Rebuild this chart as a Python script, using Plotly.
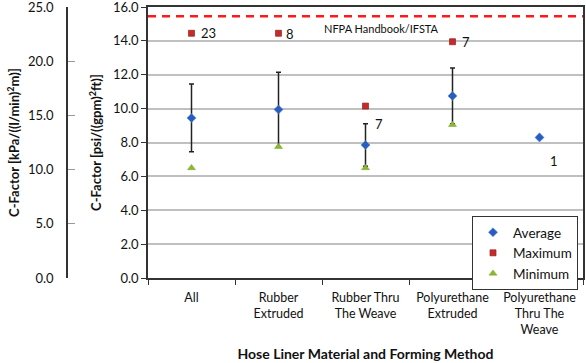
import plotly.graph_objects as go

categories = ["All", "Rubber<br>Extruded", "Rubber Thru<br>The Weave",
              "Polyurethane<br>Extruded", "Polyurethane<br>Thru The<br>Weave"]
average = [9.45, 9.95, 7.85, 10.75, 8.3]
error = [2.0, 2.2, 1.25, 1.65, None]
maximum = [14.45, 14.45, 10.15, 13.95, None]
minimum = [6.5, 7.75, 6.5, 9.05, None]
counts = ["23", "8", "7", "7", "1"]
nfpa_value = 15.45

FONT = "Lato"
W, H = 586, 363
x0, x1 = 148 / W, 583 / W
y0, y1 = (H - 278) / H, (H - 7) / H

fig = go.Figure()

fig.add_trace(go.Scatter(
    x=categories, y=average, mode="markers", name="Average",
    marker=dict(symbol="diamond", size=7, color="#2A5DC0",
                line=dict(color="#5B8BE0", width=0.5)),
    error_y=dict(type="data", array=[e if e is not None else 0 for e in error],
                 visible=True, color="#222222", thickness=1.5, width=2.5),
))
fig.add_trace(go.Scatter(
    x=categories, y=maximum, mode="markers", name="Maximum",
    marker=dict(symbol="square", size=6, color="#C42B2B",
                line=dict(color="#9E1E1E", width=0.7)),
))
fig.add_trace(go.Scatter(
    x=categories, y=minimum, mode="markers", name="Minimum",
    marker=dict(symbol="triangle-up", size=7, color="#8CB830",
                line=dict(color="#7AA526", width=0.5)),
))
# secondary (kPa) axis dummy trace
fig.add_trace(go.Scatter(x=[categories[0]], y=[None], yaxis="y2",
                         showlegend=False, hoverinfo="skip"))

fig.add_shape(type="line", xref="paper", yref="y", x0=x0, x1=x1,
              y0=nfpa_value, y1=nfpa_value,
              line=dict(color="#FF1A1A", width=2.5, dash="8px,6px"))

fig.add_annotation(x=381 / W, xref="paper", y=14.75, yref="y", text="NFPA Handbook/IFSTA",
                   showarrow=False, font=dict(family=FONT, size=11, color="#111111"))

# count labels
label_pos = [
    (categories[0], maximum[0], 17, 0),
    (categories[1], maximum[1], 11, -1),
    (categories[2], 9.1, 13, 0),
    (categories[3], maximum[3], 13, 0),
    (categories[4], 6.9, 14, 0),
]
for (cx, cy, dx, dy), t in zip(label_pos, counts):
    fig.add_annotation(x=cx, y=cy, text=t, showarrow=False, xshift=dx, yshift=dy,
                       font=dict(family=FONT, size=13, color="#111111"))

fig.update_layout(
    width=W, height=H,
    margin=dict(l=0, r=0, t=0, b=0),
    paper_bgcolor="white", plot_bgcolor="white",
    font=dict(family=FONT, size=13, color="#111111"),
    showlegend=True,
    legend=dict(x=578 / W, xanchor="right", y=(H - 216) / H, yanchor="top",
                bgcolor="white", bordercolor="#333333", borderwidth=1,
                font=dict(family=FONT, size=13.5), tracegroupgap=0,
                itemwidth=30),
    xaxis=dict(domain=[x0, x1], type="category", tickson="boundaries",
               range=[-0.5, len(categories) - 0.5],
               ticks="outside", ticklen=5, tickcolor="#333333",
               showline=True, linecolor="#333333", linewidth=1.5, mirror=True,
               showgrid=False, tickfont=dict(family=FONT, size=12.5),
               ticklabelstandoff=7, automargin=False,
               title=dict(text="<b>Hose Liner Material and Forming Method</b>",
                          font=dict(family=FONT, size=14), standoff=13)),
    yaxis=dict(domain=[y0, y1], range=[0, 16], dtick=2, tickformat=".1f",
               ticks="outside", ticklen=5, tickcolor="#333333",
               showline=True, linecolor="#333333", linewidth=1.5, mirror=True,
               showgrid=True, gridcolor="#C0C0C0", gridwidth=1.5, zeroline=False,
               tickfont=dict(family=FONT, size=13), ticklabeloverflow="allow",
               automargin=False,
               title=dict(text="<b>C-Factor [psi/((gpm)<sup>2</sup>ft)]</b>",
                          font=dict(family=FONT, size=13), standoff=8)),
    yaxis2=dict(overlaying="y", anchor="free", position=67 / W, side="left",
                range=[0, 25], dtick=5, tickformat=".1f",
                ticks="inside", ticklen=7, tickcolor="#999999",
                showline=True, linecolor="#333333", linewidth=1.5,
                showgrid=False, zeroline=False, ticklabeloverflow="allow",
                ticklabelstandoff=10,
                tickfont=dict(family=FONT, size=13), automargin=False,
                title=dict(text="<b>C-Factor [kPa/((l/min)<sup>2</sup>m)]</b>",
                           font=dict(family=FONT, size=13), standoff=4)),
)

fig.write_html("out.html", config={"displayModeBar": False},
               post_script="document.body.style.margin='0px';"
                           "document.body.style.overflow='hidden';")
